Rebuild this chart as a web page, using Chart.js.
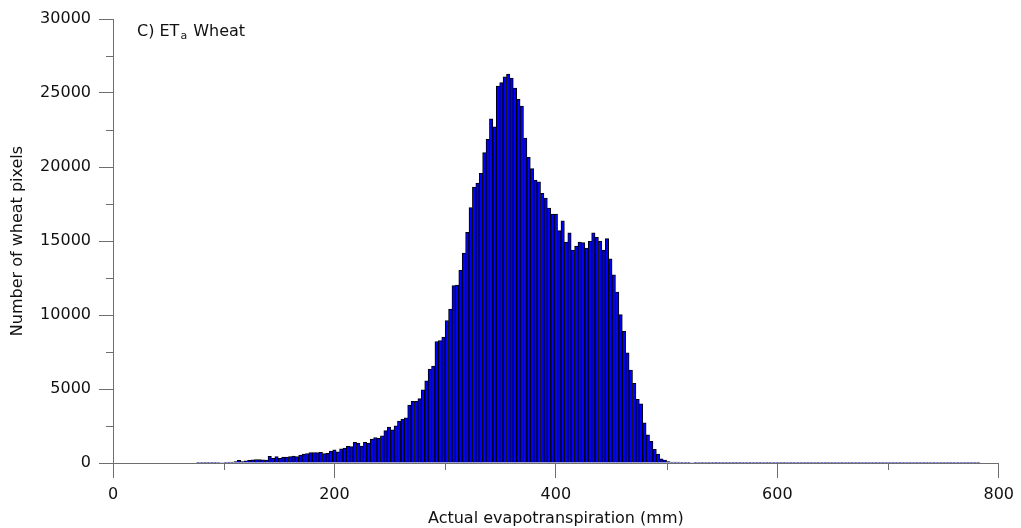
<!DOCTYPE html>
<html><head><meta charset="utf-8">
<script src="https://cdn.jsdelivr.net/npm/chart.js@4/dist/chart.umd.min.js"></script>
<style>html,body{margin:0;padding:0;background:#fff}canvas{display:block}</style>
</head><body>
<canvas id="c" width="1021" height="528"></canvas>
<script>
// Histogram bin width (mm) and counts per bin (bin k centred at k*BIN_WIDTH)
const BIN_WIDTH = 800 / 260;
const counts = [
  0,0,0,0,0,0,0,0,0,0,
  0,0,0,0,0,0,0,0,0,0,
  0,0,0,0,0,5,10,15,15,20,
  25,30,35,45,55,60,90,180,95,150,
  180,210,225,225,210,190,450,315,430,315,
  405,405,430,470,430,540,605,630,700,700,
  700,720,630,660,810,890,755,955,1010,1120,
  1110,1400,1350,1150,1395,1350,1610,1720,1670,1835,
  2190,2430,2240,2510,2840,2970,3060,3920,4160,4160,
  4350,4950,5550,6350,6550,8200,8280,8510,9630,10400,
  11980,12030,13010,14190,15580,17250,18650,18920,19575,20970,
  21870,23260,22720,25470,25700,26100,26280,26010,25340,24570,
  24120,21960,20650,19890,19120,18990,18220,17900,17230,16820,
  16820,15700,16370,14930,15560,14390,14660,14930,14890,14530,
  14980,15560,15250,14980,14390,15160,13800,12720,11550,10020,
  8900,7450,6280,5380,4300,3990,2720,1910,1460,920,
  600,280,200,100,70,55,60,45,50,40,
  35,40,30,25,30,20,25,20,15,20,
  15,10,15,10,12,10,8,12,10,8,
  10,6,8,10,6,8,5,8,6,5,
  8,6,5,7,4,6,5,8,5,4,
  6,5,3,5,4,6,3,4,5,3,
  4,6,3,4,3,5,4,3,4,2,
  3,4,2,3,4,2,3,2,3,2,
  3,2,3,2,2,3,2,1,2,2,
  1,2,1,2,1
];
const xMajorTicks = [0, 200, 400, 600, 800];
const xMinorTicks = [100, 300, 500, 700];
const yMajorTicks = [0, 5000, 10000, 15000, 20000, 25000, 30000];
const yMinorTicks = [2500, 7500, 12500, 17500, 22500, 27500];
const xTitle = 'Actual evapotranspiration (mm)';
const yTitle = 'Number of wheat pixels';
const panelTitle = ['C) ET', 'a', ' Wheat'];

const FONT = 'DejaVu Sans';
const AXIS_COLOR = '#6e6e6e';
const TEXT_COLOR = '#111';

const points = counts.map((v, i) => ({x: +(i * BIN_WIDTH).toFixed(3), y: v}));

const extras = {
  id: 'extras',
  afterDraw(chart) {
    const ctx = chart.ctx, xs = chart.scales.x, ys = chart.scales.y;
    ctx.save();
    ctx.strokeStyle = AXIS_COLOR;
    ctx.lineWidth = 1;
    ctx.beginPath();
    yMinorTicks.forEach(v => {
      const p = Math.round(ys.getPixelForValue(v)) + 0.5;
      ctx.moveTo(xs.left - 7, p); ctx.lineTo(xs.left, p);
    });
    xMinorTicks.forEach(v => {
      const p = Math.round(xs.getPixelForValue(v)) + 0.5;
      ctx.moveTo(p, ys.bottom); ctx.lineTo(p, ys.bottom + 7);
    });
    ctx.stroke();
    // panel title with subscript
    ctx.fillStyle = TEXT_COLOR;
    ctx.textBaseline = 'alphabetic';
    let x = 137;
    ctx.font = '16px "' + FONT + '"';
    ctx.fillText(panelTitle[0], x, 36);
    x += ctx.measureText(panelTitle[0]).width + 1;
    ctx.font = '11px "' + FONT + '"';
    ctx.fillText(panelTitle[1], x, 39);
    x += ctx.measureText(panelTitle[1]).width + 1;
    ctx.font = '16px "' + FONT + '"';
    ctx.fillText(panelTitle[2], x, 36);
    ctx.restore();
  }
};

new Chart(document.getElementById('c'), {
  type: 'bar',
  data: {
    datasets: [{
      data: points,
      backgroundColor: '#0000ff',
      borderColor: '#000000',
      borderWidth: 1,
      barPercentage: 1,
      categoryPercentage: 1
    }]
  },
  options: {
    responsive: false,
    animation: false,
    events: [],
    layout: {padding: {left: 0, right: 21, top: 19, bottom: 0}},
    plugins: {legend: {display: false}, tooltip: {enabled: false}, title: {display: false}},
    scales: {
      x: {
        type: 'linear',
        min: 0, max: 800,
        offset: false,
        afterFit: s => { s.height = 65; },
        afterBuildTicks: s => { s.ticks = xMajorTicks.map(v => ({value: v})); },
        grid: {display: true, drawOnChartArea: false, drawTicks: true, tickLength: 15, offset: false, color: AXIS_COLOR},
        border: {display: true, color: AXIS_COLOR, width: 1},
        ticks: {padding: 7, maxRotation: 0, autoSkip: false, color: TEXT_COLOR, font: {family: FONT, size: 16},
                callback: v => String(v)},
        title: {display: true, text: xTitle, color: TEXT_COLOR, font: {family: FONT, size: 16}, padding: {top: 0, bottom: 0}}
      },
      y: {
        type: 'linear',
        min: 0, max: 30000,
        afterFit: s => { s.width = 113; },
        afterBuildTicks: s => { s.ticks = yMajorTicks.map(v => ({value: v})); },
        grid: {display: true, drawOnChartArea: false, drawTicks: true, tickLength: 14, color: AXIS_COLOR},
        border: {display: true, color: AXIS_COLOR, width: 1},
        ticks: {padding: 8, autoSkip: false, color: TEXT_COLOR, font: {family: FONT, size: 16},
                callback: v => String(v)},
        title: {display: true, text: yTitle, color: TEXT_COLOR, font: {family: FONT, size: 16}, padding: {top: 8, bottom: 0}}
      }
    }
  },
  plugins: [extras]
});
</script>
</body></html>
